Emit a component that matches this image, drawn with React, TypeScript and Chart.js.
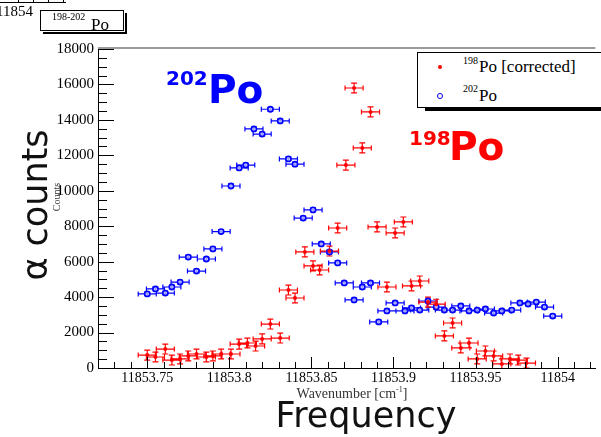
import React, { useEffect, useRef } from "react";
import { Chart, registerables } from "chart.js";

Chart.register(...registerables);

// 198Po (corrected): laser wavenumber [cm^-1] and alpha counts
const PO198_WAVENUMBER = [
  11853.750, 11853.755, 11853.761, 11853.765, 11853.770, 11853.775, 11853.780, 11853.786, 11853.790, 11853.795,
  11853.801, 11853.806, 11853.811, 11853.816, 11853.820, 11853.825, 11853.831, 11853.836, 11853.840, 11853.846,
  11853.851, 11853.855, 11853.861, 11853.866, 11853.871, 11853.876, 11853.881, 11853.886, 11853.890, 11853.896,
  11853.901, 11853.906, 11853.911, 11853.916, 11853.921, 11853.926, 11853.931, 11853.936, 11853.941, 11853.946,
  11853.951, 11853.956, 11853.961, 11853.966, 11853.971, 11853.976, 11853.981,
];
const PO198_COUNTS = [
  730, 620, 1070, 450, 510, 680, 790, 620, 680, 790,
  790, 1350, 1410, 1240, 1640, 2480, 1690, 4400, 3950, 6550,
  5760, 5530, 6600, 7900, 11450, 15800, 12420, 14450, 7960, 4570,
  7620, 8240, 4630, 4910, 3720, 3600, 1810, 2540, 1130, 1410,
  510, 960, 680, 230, 510, 450, 280,
];

// 202Po: laser wavenumber [cm^-1] and alpha counts
const PO202_WAVENUMBER = [
  11853.750, 11853.755, 11853.761, 11853.765, 11853.770, 11853.775, 11853.780, 11853.786, 11853.790, 11853.795,
  11853.801, 11853.806, 11853.810, 11853.815, 11853.820, 11853.825, 11853.831, 11853.836, 11853.840, 11853.845,
  11853.851, 11853.856, 11853.861, 11853.866, 11853.870, 11853.876, 11853.881, 11853.886, 11853.891, 11853.896,
  11853.901, 11853.907, 11853.911, 11853.916, 11853.921, 11853.926, 11853.931, 11853.936, 11853.941, 11853.946,
  11853.951, 11853.956, 11853.961, 11853.966, 11853.972, 11853.977, 11853.982, 11853.987, 11853.992, 11853.997,
];
const PO202_COUNTS = [
  4180, 4460, 4230, 4570, 4850, 6260, 5470, 6150, 6720, 7700,
  10270, 11290, 11450, 13490, 13200, 14600, 13940, 11800, 11500, 8460,
  8920, 7000, 6550, 5930, 4800, 3840, 4570, 4800, 2600, 3220,
  3670, 3220, 3390, 3270, 3780, 3440, 3270, 3270, 3500, 3220,
  3270, 3330, 3100, 3220, 3270, 3670, 3610, 3720, 3440, 2930,
];

// uncertainties
const WAVENUMBER_ERR = 0.0055;
const PO198_COUNT_ERR = 280;
const PO202_COUNT_ERR = 100;

// axes
const X_MIN = 11853.72;
const X_MAX = 11854.023;
const X_TICK_VALUES = [11853.75, 11853.8, 11853.85, 11853.9, 11853.95, 11854];
const X_TICK_LABELS = ["11853.75", "11853.8", "11853.85", "11853.9", "11853.95", "11854"];
const Y_TICK_VALUES = [0, 2000, 4000, 6000, 8000, 10000, 12000, 14000, 16000, 18000];
const Y_TICK_LABELS = ["0", "2000", "4000", "6000", "8000", "10000", "12000", "14000", "16000", "18000"];
const X_MINOR_STEP = 0.01;
const Y_MINOR_STEP = 500;

const RED = "#ff0000";
const BLUE = "#0000ff";
const SERIF = '"Liberation Serif", "DejaVu Serif", serif';
const SANS = '"DejaVu Sans", Verdana, sans-serif';

// horizontal + vertical error bars with end caps, drawn under the markers
const errorBars = {
  id: "errorBars",
  beforeDatasetsDraw(chart: any) {
    const { ctx, chartArea: a, scales } = chart;
    const xs = scales.x;
    const ys = scales.y;
    ctx.save();
    ctx.beginPath();
    ctx.rect(a.left, a.top, a.right - a.left, a.bottom - a.top);
    ctx.clip();
    for (let i = chart.data.datasets.length - 1; i >= 0; i--) {
      const ds = chart.data.datasets[i];
      const err = ds.errorBars;
      if (!err) continue;
      ctx.strokeStyle = err.color;
      ctx.lineWidth = 1.2;
      ctx.beginPath();
      for (const p of ds.data) {
        const cx = xs.getPixelForValue(p.x);
        const cy = ys.getPixelForValue(p.y);
        const x0 = xs.getPixelForValue(p.x - err.x);
        const x1 = xs.getPixelForValue(p.x + err.x);
        const y0 = ys.getPixelForValue(p.y - err.y);
        const y1 = ys.getPixelForValue(p.y + err.y);
        ctx.moveTo(x0, cy);
        ctx.lineTo(x1, cy);
        ctx.moveTo(x0, cy - 2.5);
        ctx.lineTo(x0, cy + 2.5);
        ctx.moveTo(x1, cy - 2.5);
        ctx.lineTo(x1, cy + 2.5);
        ctx.moveTo(cx, y0);
        ctx.lineTo(cx, y1);
        ctx.moveTo(cx - 3, y0);
        ctx.lineTo(cx + 3, y0);
        ctx.moveTo(cx - 3, y1);
        ctx.lineTo(cx + 3, y1);
      }
      ctx.stroke();
    }
    ctx.restore();
  },
};

// inward-pointing ticks and the upper frame edge
const frameTicks = {
  id: "frameTicks",
  afterDraw(chart: any) {
    const { ctx, chartArea: a, scales } = chart;
    const xs = scales.x;
    const ys = scales.y;
    ctx.save();
    ctx.strokeStyle = "#000";
    ctx.lineWidth = 1;
    ctx.beginPath();
    const nx = Math.round((X_MAX - X_MIN) / X_MINOR_STEP);
    for (let k = 0; k <= nx; k++) {
      const v = X_MIN + k * X_MINOR_STEP;
      const major = X_TICK_VALUES.some((t) => Math.abs(t - v) < 1e-6);
      const px = Math.round(xs.getPixelForValue(v)) + 0.5;
      ctx.moveTo(px, a.bottom);
      ctx.lineTo(px, a.bottom - (major ? 11 : 6));
    }
    for (let v = 0; v <= 18000; v += Y_MINOR_STEP) {
      const major = Y_TICK_VALUES.includes(v);
      const py = Math.round(ys.getPixelForValue(v)) + 0.5;
      ctx.moveTo(a.left, py);
      ctx.lineTo(a.left + (major ? 16 : 9), py);
    }
    ctx.stroke();
    ctx.strokeStyle = "#7a7a7a";
    ctx.lineWidth = 1.5;
    ctx.beginPath();
    ctx.moveTo(a.left, a.top - 1);
    ctx.lineTo(a.right, a.top - 1);
    ctx.stroke();
    ctx.restore();
  },
};

type TxtProps = {
  x: number;
  base: number;
  size: number;
  family?: string;
  bold?: boolean;
  color?: string;
  children: React.ReactNode;
};

// text placed by its left edge and baseline
function Txt({ x, base, size, family = SERIF, bold, color = "#000", children }: TxtProps) {
  const ascent = family === SANS ? 0.846 : 0.8375;
  return (
    <div
      style={{
        position: "absolute",
        left: x,
        top: base - ascent * size,
        fontFamily: family,
        fontSize: size,
        fontWeight: bold ? "bold" : "normal",
        lineHeight: 1,
        color,
        whiteSpace: "nowrap",
      }}
    >
      {children}
    </div>
  );
}

export default function App() {
  const canvasRef = useRef<HTMLCanvasElement | null>(null);

  useEffect(() => {
    const canvas = canvasRef.current;
    if (!canvas) return;
    const chart = new Chart(canvas, {
      type: "scatter",
      data: {
        datasets: [
          {
            label: "198Po [corrected]",
            data: PO198_WAVENUMBER.map((x, i) => ({ x, y: PO198_COUNTS[i] })),
            pointStyle: "circle",
            pointRadius: 2,
            pointBackgroundColor: RED,
            pointBorderColor: RED,
            pointBorderWidth: 0,
            errorBars: { x: WAVENUMBER_ERR, y: PO198_COUNT_ERR, color: RED },
          } as any,
          {
            label: "202Po",
            data: PO202_WAVENUMBER.map((x, i) => ({ x, y: PO202_COUNTS[i] })),
            pointStyle: "circle",
            pointRadius: 2.6,
            pointBackgroundColor: "rgba(255,255,255,0.6)",
            pointBorderColor: BLUE,
            pointBorderWidth: 1.6,
            errorBars: { x: WAVENUMBER_ERR, y: PO202_COUNT_ERR, color: BLUE },
          } as any,
        ],
      },
      options: {
        animation: false,
        responsive: true,
        maintainAspectRatio: false,
        devicePixelRatio: 1,
        layout: { padding: { left: 0, top: 49, right: 0, bottom: 0 } },
        plugins: {
          legend: { display: false },
          tooltip: { enabled: false },
          title: { display: false },
        },
        scales: {
          x: {
            type: "linear",
            min: X_MIN,
            max: X_MAX,
            afterFit: (s: any) => {
              s.height = 69;
            },
            afterBuildTicks: (s: any) => {
              s.ticks = X_TICK_VALUES.map((value) => ({ value }));
            },
            ticks: {
              callback: (_v: any, i: number) => X_TICK_LABELS[i],
              font: { family: SERIF, size: 14 },
              color: "#000",
              padding: 2,
              maxRotation: 0,
              autoSkip: false,
            },
            grid: { display: false, drawTicks: false },
            border: { display: true, color: "#000", width: 1 },
          },
          y: {
            type: "linear",
            min: 0,
            max: 18000,
            afterFit: (s: any) => {
              s.width = 98;
            },
            afterBuildTicks: (s: any) => {
              s.ticks = Y_TICK_VALUES.map((value) => ({ value }));
            },
            ticks: {
              callback: (_v: any, i: number) => Y_TICK_LABELS[i],
              font: { family: SERIF, size: 15 },
              color: "#000",
              padding: 4,
              autoSkip: false,
            },
            grid: { display: false, drawTicks: false },
            border: { display: true, color: "#000", width: 1 },
          },
        },
      } as any,
      plugins: [errorBars, frameTicks],
    });
    return () => chart.destroy();
  }, []);

  return (
    <div
      style={{
        position: "fixed",
        left: 0,
        top: 0,
        width: 601,
        height: 437,
        background: "#fff",
        overflow: "hidden",
      }}
    >
      <div style={{ position: "absolute", left: 0, top: 0, width: 601, height: 437 }}>
        <canvas ref={canvasRef} />
      </div>

      {/* edge of the neighbouring frame */}
      <div style={{ position: "absolute", left: 0, top: 2, width: 66, height: 1, background: "#000" }} />
      {[18, 33, 48, 63].map((x) => (
        <div key={x} style={{ position: "absolute", left: x, top: 0, width: 1, height: 3, background: "#000" }} />
      ))}
      <Txt x={-4} base={17} size={15}>11854</Txt>

      {/* histogram title box */}
      <div style={{ position: "absolute", left: 43, top: 32, width: 84, height: 2, background: "#000" }} />
      <div style={{ position: "absolute", left: 125, top: 13, width: 2, height: 21, background: "#000" }} />
      <div
        style={{
          position: "absolute",
          left: 40,
          top: 10,
          width: 84,
          height: 21,
          border: "1px solid #000",
          background: "#fff",
          boxSizing: "border-box",
        }}
      />
      <Txt x={52} base={20} size={10}>198-202</Txt>
      <Txt x={91} base={30} size={17}>Po</Txt>

      {/* legend */}
      <div style={{ position: "absolute", left: 425, top: 107, width: 180, height: 4, background: "#000" }} />
      <div
        style={{
          position: "absolute",
          left: 417,
          top: 52,
          width: 200,
          height: 56,
          border: "1px solid #000",
          background: "#fff",
          boxSizing: "border-box",
        }}
      />
      <div
        style={{
          position: "absolute",
          left: 438,
          top: 65,
          width: 4,
          height: 4,
          borderRadius: "50%",
          background: RED,
        }}
      />
      <Txt x={463} base={64} size={10}>198</Txt>
      <Txt x={479} base={72} size={17}>Po [corrected]</Txt>
      <div
        style={{
          position: "absolute",
          left: 437,
          top: 93,
          width: 6,
          height: 6,
          borderRadius: "50%",
          border: `1.5px solid ${BLUE}`,
          boxSizing: "border-box",
        }}
      />
      <Txt x={463} base={92} size={10}>202</Txt>
      <Txt x={479} base={101} size={17}>Po</Txt>

      {/* isotope annotations */}
      <Txt x={166} base={85} size={20} family={SANS} bold color={BLUE}>202</Txt>
      <Txt x={208} base={103} size={39} family={SANS} bold color={BLUE}>Po</Txt>
      <Txt x={409} base={145} size={20} family={SANS} bold color={RED}>198</Txt>
      <Txt x={449} base={160} size={39} family={SANS} bold color={RED}>Po</Txt>

      {/* axis titles */}
      <div
        style={{
          position: "absolute",
          left: 57,
          top: 197,
          transform: "translate(-50%, -50%) rotate(-90deg)",
          fontFamily: SERIF,
          fontSize: 10,
          lineHeight: 1,
          color: "#333",
          whiteSpace: "nowrap",
        }}
      >
        Counts
      </div>
      <div
        style={{
          position: "absolute",
          left: 352,
          top: 398 - 0.8375 * 14,
          transform: "translateX(-50%)",
          fontFamily: SERIF,
          fontSize: 14,
          lineHeight: 1,
          color: "#333",
          whiteSpace: "nowrap",
        }}
      >
        Wavenumber [cm<span style={{ fontSize: 8, verticalAlign: 6 }}>-1</span>]
      </div>

      <div
        style={{
          position: "absolute",
          left: 35,
          top: 205,
          transform: "translate(-50%, -50%) rotate(-90deg)",
          fontFamily: SANS,
          fontSize: 35,
          lineHeight: 1,
          color: "#111",
          whiteSpace: "nowrap",
        }}
      >
        α counts
      </div>
      <div
        style={{
          position: "absolute",
          left: 366,
          top: 428 - 0.846 * 35,
          transform: "translateX(-50%)",
          fontFamily: SANS,
          fontSize: 35,
          lineHeight: 1,
          color: "#111",
          whiteSpace: "nowrap",
        }}
      >
        Frequency
      </div>
    </div>
  );
}
